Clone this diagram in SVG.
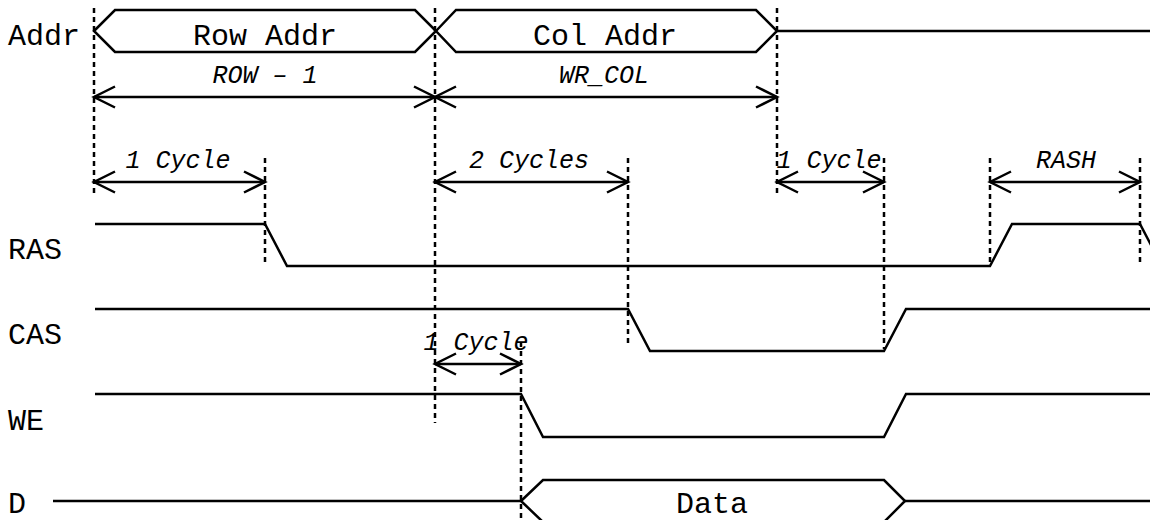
<svg xmlns="http://www.w3.org/2000/svg" width="1150" height="520" viewBox="0 0 1150 520">
  <style>
    .sig { fill: none; stroke: #000; stroke-width: 2.5; stroke-linejoin: miter; }
    .guide { fill: none; stroke: #000; stroke-width: 2.5; stroke-dasharray: 5 4; }
    .dim { fill: none; stroke: #000; stroke-width: 2.5; marker-start: url(#arr); marker-end: url(#arr); }
    .lbl { font-family: "Liberation Mono", "DejaVu Sans Mono", monospace; font-size: 30px; fill: #000; }
    .bus { font-family: "Liberation Mono", "DejaVu Sans Mono", monospace; font-size: 30px; fill: #000; text-anchor: middle; }
    .tm { font-family: "Liberation Mono", "DejaVu Sans Mono", monospace; font-size: 25px; font-style: italic; fill: #000; text-anchor: middle; }
  </style>
  <defs>
    <marker id="arr" viewBox="-22 -11 24 22" markerWidth="24" markerHeight="22" refX="0" refY="0" markerUnits="userSpaceOnUse" orient="auto-start-reverse" overflow="visible">
      <path d="M-21,-10.5 L0,0 L-21,10.5" fill="none" stroke="#000" stroke-width="2.5"/>
    </marker>
  </defs>
  <rect width="1150" height="520" fill="#fff"/>

  <g id="guides">
    <line class="guide" x1="94" y1="8" x2="94" y2="197"/>
    <line class="guide" x1="435" y1="8" x2="435" y2="423"/>
    <line class="guide" x1="777" y1="8" x2="777" y2="197"/>
    <line class="guide" x1="265" y1="158" x2="265" y2="262"/>
    <line class="guide" x1="628" y1="158" x2="628" y2="347"/>
    <line class="guide" x1="884" y1="158" x2="884" y2="349"/>
    <line class="guide" x1="990" y1="158" x2="990" y2="264"/>
    <line class="guide" x1="1140" y1="158" x2="1140" y2="262"/>
    <line class="guide" x1="521" y1="342" x2="521" y2="520"/>
  </g>

  <g id="addr">
    <text class="lbl" x="8" y="45">Addr</text>
    <path class="sig" d="M94,31 L115,10 L415,10 L436,31 L415,52 L115,52 Z"/>
    <text class="bus" x="265" y="45">Row Addr</text>
    <path class="sig" d="M436,31 L456,10 L756,10 L777,31 L756,52 L456,52 Z"/>
    <text class="bus" x="605" y="45">Col Addr</text>
    <line class="sig" x1="777" y1="31" x2="1150" y2="31"/>
  </g>

  <g id="ras">
    <text class="lbl" x="8" y="259">RAS</text>
    <path class="sig" d="M95,224 L265,224 L287,266 L990,266 L1012,224 L1140,224 L1162,266"/>
  </g>

  <g id="cas">
    <text class="lbl" x="8" y="344">CAS</text>
    <path class="sig" d="M95,309 L628,309 L650,351 L884,351 L906,309 L1150,309"/>
  </g>

  <g id="we">
    <text class="lbl" x="8" y="430">WE</text>
    <path class="sig" d="M95,394 L521,394 L543,437 L884,437 L906,394 L1150,394"/>
  </g>

  <g id="d">
    <text class="lbl" x="8" y="513">D</text>
    <path class="sig" d="M53,501 L521,501"/>
    <path class="sig" d="M521,501 L543,480 L884,480 L905,501 L884,522 L543,522 Z"/>
    <text class="bus" x="712" y="513">Data</text>
    <line class="sig" x1="905" y1="501" x2="1150" y2="501"/>
  </g>

  <g id="connectors">
    <line class="dim" x1="94" y1="97" x2="435" y2="97"/>
    <text class="tm" x="265" y="83">ROW – 1</text>
    <line class="dim" x1="435" y1="97" x2="777" y2="97"/>
    <text class="tm" x="604" y="83">WR_COL</text>
    <line class="dim" x1="94" y1="182" x2="265" y2="182"/>
    <text class="tm" x="178" y="168">1 Cycle</text>
    <line class="dim" x1="435" y1="182" x2="628" y2="182"/>
    <text class="tm" x="529" y="168">2 Cycles</text>
    <line class="dim" x1="777" y1="182" x2="884" y2="182"/>
    <text class="tm" x="829" y="168">1 Cycle</text>
    <line class="dim" x1="990" y1="182" x2="1140" y2="182"/>
    <text class="tm" x="1066" y="168">RASH</text>
    <line class="dim" x1="435" y1="364" x2="521" y2="364"/>
    <text class="tm" x="476" y="350">1 Cycle</text>
  </g>
</svg>
